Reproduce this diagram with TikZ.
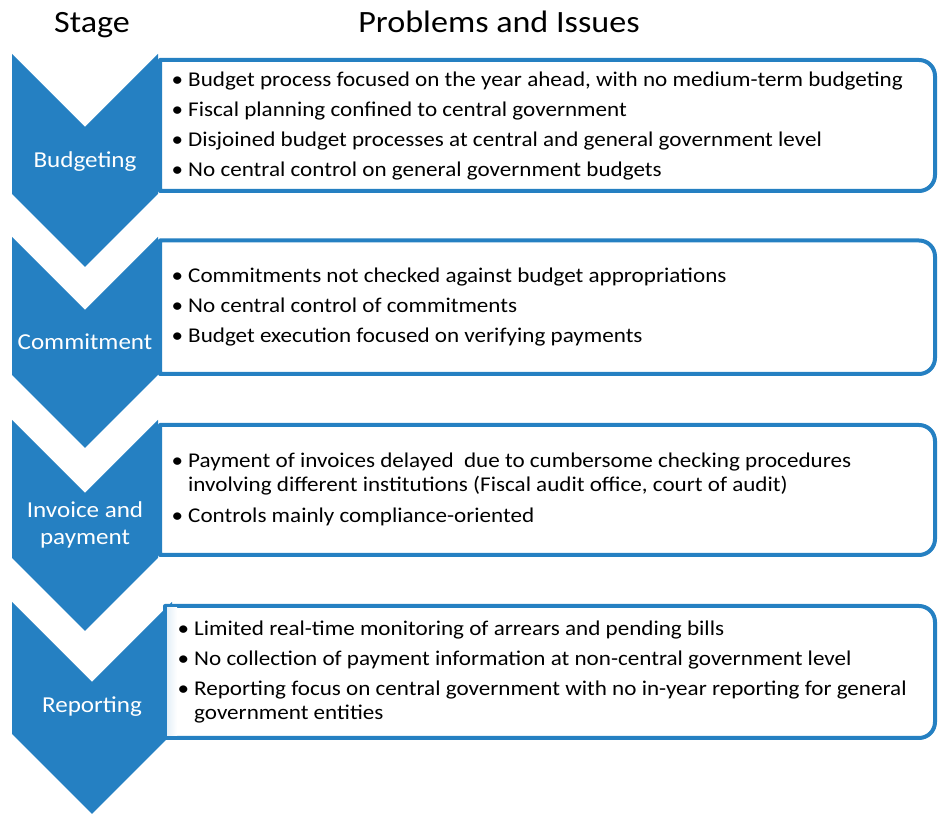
\documentclass[tikz,border=0pt]{standalone}
\usepackage{fontspec}
\setmainfont{Carlito}[FakeStretch=1.1]
\definecolor{stageblue}{RGB}{37,128,194}
\begin{document}
\begin{tikzpicture}[x=1pt,y=1pt,
  chev/.style={fill=stageblue,draw=none},
  pbox/.style={draw=stageblue,line width=4pt,fill=white,line join=round},
  itemline/.style={anchor=base west,inner sep=0pt,font=\fontsize{21}{25}\selectfont,text=black},
  stagelbl/.style={anchor=base,inner sep=0pt,font=\fontsize{22.8}{27}\selectfont,text=white},
  headlbl/.style={anchor=base,inner sep=0pt,font=\fontsize{31}{36}\selectfont,text=black}]
\newcommand\bul{\llap{\textbullet\kern5pt}}
\useasboundingbox (0,0) rectangle (938,814);
% headers
\node[headlbl] (hstage) at (92,781) {Stage};
\node[headlbl] (hprob) at (499,781) {Problems and Issues};
% chevrons
\fill[chev] (12,760) -- (85,687) -- (158,760) -- (158,620) -- (85,547) -- (12,620) -- cycle;
\fill[chev] (12,577) -- (85,504) -- (158,577) -- (158,439) -- (85,366) -- (12,439) -- cycle;
\fill[chev] (12,394) -- (85,321) -- (158,394) -- (158,256) -- (85,183) -- (12,256) -- cycle;
\fill[chev] (12,212) -- (92,132) -- (172,212) -- (172,80) -- (92,0) -- (12,80) -- cycle;
% boxes
\draw[pbox] (160,754) -- (919,754) arc[start angle=90,end angle=0,radius=16] -- (935,639) arc[start angle=0,end angle=-90,radius=16] -- (160,623) -- cycle;
\draw[pbox] (160,573.5) -- (919,573.5) arc[start angle=90,end angle=0,radius=16] -- (935,456) arc[start angle=0,end angle=-90,radius=16] -- (160,440) -- cycle;
\draw[pbox] (160,389) -- (919,389) arc[start angle=90,end angle=0,radius=16] -- (935,275) arc[start angle=0,end angle=-90,radius=16] -- (160,259) -- cycle;
\draw[pbox] (165,208) -- (919,208) arc[start angle=90,end angle=0,radius=16] -- (935,92) arc[start angle=0,end angle=-90,radius=16] -- (165,76) -- cycle;
\shade[left color=stageblue!12,right color=white] (167.2,78) rectangle (177,206);
% stage labels
\node[stagelbl] (s1) at (85,646) {Budgeting};
\node[stagelbl] (s2) at (85,464) {Commitment};
\node[stagelbl] (s3a) at (85,296) {Invoice and};
\node[stagelbl] (s3b) at (85,269) {payment};
\node[stagelbl] (s4) at (92,101) {Reporting};
% box 1
\node[itemline] (b1a) at (188,727) {\bul Budget process focused on the year ahead, with no medium-term budgeting};
\node[itemline] (b1b) at (188,697) {\bul Fiscal planning confined to central government};
\node[itemline] (b1c) at (188,667) {\bul Disjoined budget processes at central and general government level};
\node[itemline] (b1d) at (188,637) {\bul No central control on general government budgets};
% box 2
\node[itemline] (b2a) at (188,531) {\bul Commitments not checked against budget appropriations};
\node[itemline] (b2b) at (188,501) {\bul No central control of commitments};
\node[itemline] (b2c) at (188,471) {\bul Budget execution focused on verifying payments};
% box 3
\node[itemline] (b3a) at (188,346) {\bul Payment of invoices delayed\ \ due to cumbersome checking procedures};
\node[itemline] (b3b) at (188,322) {involving different institutions\ (Fiscal audit office, court of audit)};
\node[itemline] (b3c) at (188,291) {\bul Controls mainly compliance-oriented};
% box 4
\node[itemline] (b4a) at (194,178) {\bul Limited real-time monitoring of arrears and pending bills};
\node[itemline] (b4b) at (194,148) {\bul No collection of payment information at non-central government level};
\node[itemline] (b4c) at (194,118) {\bul Reporting focus on central government with no in-year reporting for general};
\node[itemline] (b4d) at (194,94) {government entities};
\end{tikzpicture}
\end{document}
